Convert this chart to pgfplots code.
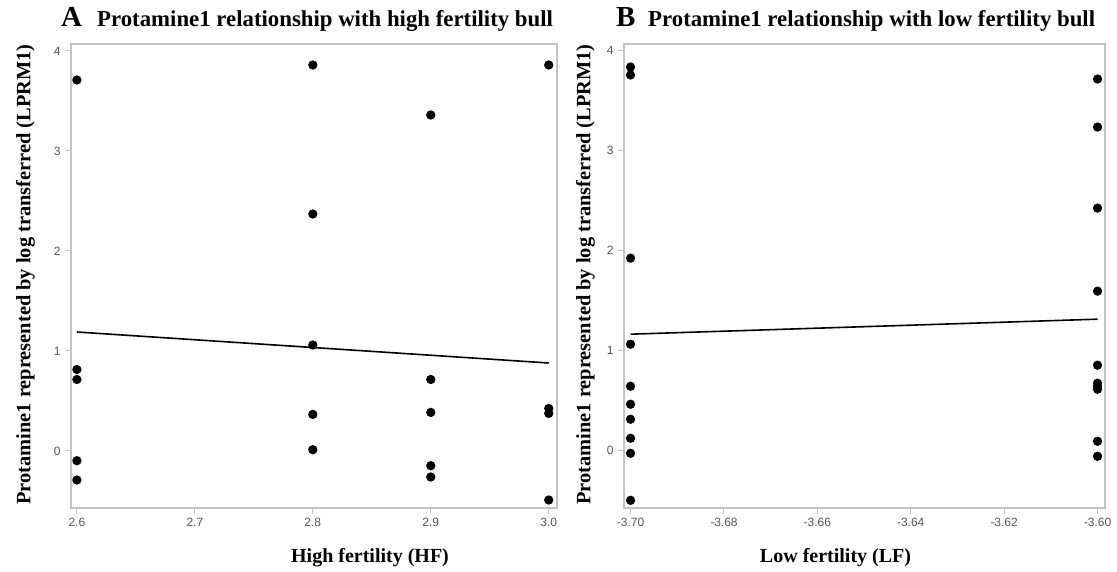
\documentclass[border=0pt]{standalone}
\usepackage{pgfplots}
\pgfplotsset{compat=1.18}
\usepackage{fontspec}
\setmainfont{Liberation Serif}
\newfontfamily\arialf{Liberation Sans}
\definecolor{frame}{RGB}{195,195,195}
\definecolor{ticklab}{RGB}{85,85,85}
\begin{document}
\begin{tikzpicture}
\path[use as bounding box] (0,0) rectangle (1117pt,571pt);
\pgfplotsset{
  myax/.style={
    scale only axis,
    anchor=south west,
    height=464pt,
    axis line style={frame, line width=1.1pt},
    tick style={frame, line width=1pt},
    tick align=outside,
    major tick length=6pt,
    xtick pos=bottom, ytick pos=left,
    ticklabel style={font=\arialf\fontsize{12}{14}\selectfont, text=ticklab},
    xticklabel style={yshift=-1pt},
    yticklabel style={xshift=-1pt},
    ytick={0,1,2,3,4},
    yticklabels={0,1,2,3,4},
    every axis plot/.append style={line width=1.6pt},
  }
}
% Panel A
\begin{axis}[myax, at={(71pt,63pt)}, width=486pt,
  xmin=2.595, xmax=3.007, ymin=-0.57, ymax=4.07,
  xtick={2.6,2.7,2.8,2.9,3.0}, xticklabels={2.6,2.7,2.8,2.9,3.0}]
\addplot[only marks, mark=*, mark size=3.8pt, black] coordinates {
 (2.6,3.71) (2.6,0.815) (2.6,0.715) (2.6,-0.097) (2.6,-0.29)
 (2.8,3.86) (2.8,2.37) (2.8,1.06) (2.8,0.366) (2.8,0.013)
 (2.9,3.36) (2.9,0.715) (2.9,0.386) (2.9,-0.147) (2.9,-0.26)
 (3.0,3.86) (3.0,0.426) (3.0,0.376) (3.0,-0.49)
};
\addplot[black, no marks] coordinates {(2.6,1.19) (3.0,0.88)};
\end{axis}
% Panel B
\begin{axis}[myax, at={(624pt,63pt)}, width=481pt,
  xmin=-3.7014, xmax=-3.5984, ymin=-0.577, ymax=4.06,
  xtick={-3.70,-3.68,-3.66,-3.64,-3.62,-3.60},
  xticklabels={-3.70,-3.68,-3.66,-3.64,-3.62,-3.60}]
\addplot[only marks, mark=*, mark size=3.8pt, black] coordinates {
 (-3.70,3.83) (-3.70,3.75) (-3.70,1.92) (-3.70,1.06) (-3.70,0.64)
 (-3.70,0.46) (-3.70,0.31) (-3.70,0.12) (-3.70,-0.03) (-3.70,-0.50)
 (-3.60,3.71) (-3.60,3.23) (-3.60,2.42) (-3.60,1.59) (-3.60,0.85)
 (-3.60,0.67) (-3.60,0.64) (-3.60,0.61) (-3.60,0.09) (-3.60,-0.06)
};
\addplot[black, no marks] coordinates {(-3.70,1.16) (-3.60,1.31)};
\end{axis}
% Titles
\node[anchor=base west, inner sep=0pt, font=\bfseries\fontsize{29}{32}\selectfont] at (61pt,544pt) {A};
\node[anchor=base west, inner sep=0pt, font=\bfseries\fontsize{22.8}{26}\selectfont] at (97pt,544pt) {Protamine1 relationship with high fertility bull};
\node[anchor=base west, inner sep=0pt, font=\bfseries\fontsize{29}{32}\selectfont] at (616pt,544pt) {B};
\node[anchor=base west, inner sep=0pt, font=\bfseries\fontsize{22.8}{26}\selectfont] at (648pt,544pt) {Protamine1 relationship with low fertility bull};
% Axis labels
\node[rotate=90, inner sep=0pt, font=\bfseries\fontsize{20.4}{24}\selectfont] at (25.5pt,296.5pt) {Protamine1 represented by log transferred (LPRM1)};
\node[rotate=90, inner sep=0pt, font=\bfseries\fontsize{20.4}{24}\selectfont] at (585.5pt,296.5pt) {Protamine1 represented by log transferred (LPRM1)};
\node[anchor=base, inner sep=0pt, font=\bfseries\fontsize{20}{24}\selectfont] at (370pt,9pt) {High fertility (HF)};
\node[anchor=base, inner sep=0pt, font=\bfseries\fontsize{20}{24}\selectfont] at (835.5pt,9pt) {Low fertility (LF)};
\end{tikzpicture}
\end{document}
